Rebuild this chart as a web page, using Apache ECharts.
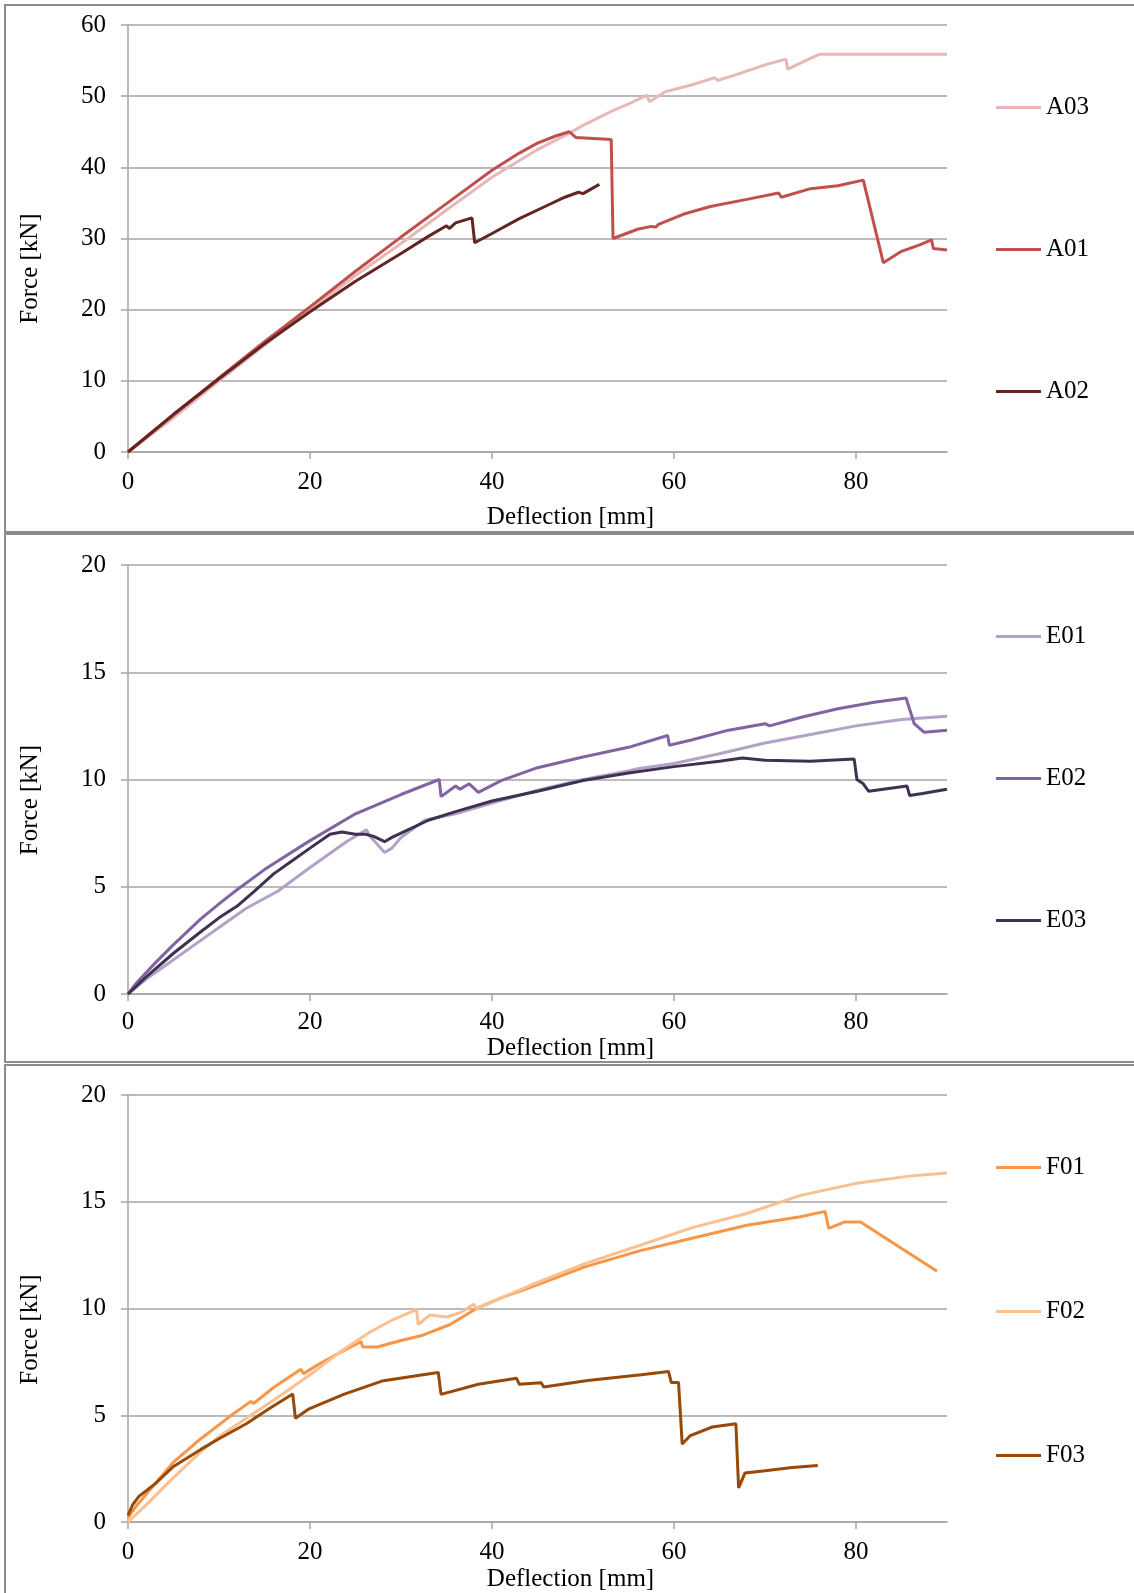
<!DOCTYPE html>
<html><head><meta charset="utf-8">
<script src="https://cdn.jsdelivr.net/npm/echarts@6/dist/echarts.min.js"></script>
<style>html,body{margin:0;padding:0;background:#fff}#c{width:1134px;height:1593px}</style>
</head><body><div id="c"></div>
<script>
// ---- data (Deflection [mm], Force [kN]) ----
const xTickValues = [0, 20, 40, 60, 80];
const panelNames = [['A03', 'A01', 'A02'], ['E01', 'E02', 'E03'], ['F01', 'F02', 'F03']];
const yMax = [60, 20, 20];
const yStep = [10, 5, 5];

const A03 = [[0,0],[5,4.8],[10,10],[15,15],[20,20],[25,24.8],[30,29.3],[35,34],[40,38.6],[45,42.5],[48.5,44.8],[50,45.9],[53,47.8],[55,48.9],[57,50.1],[57.3,49.2],[59,50.6],[62,51.6],[64.5,52.6],[64.8,52.2],[67,53.1],[70,54.4],[72.3,55.2],[72.5,53.8],[74,54.7],[76,55.9],[90,55.9]];
const A01 = [[0,0],[5,5.2],[10,10.4],[15,15.5],[20,20.4],[25,25.4],[30,30.2],[35,34.9],[40,39.6],[43,42],[45,43.4],[47,44.4],[48.5,45],[49.2,44.2],[53.1,43.9],[53.3,30.0],[56,31.3],[57.5,31.7],[58,31.6],[58.3,32],[61,33.4],[64,34.5],[68,35.5],[71.5,36.4],[71.8,35.8],[75,37],[78,37.4],[80.8,38.2],[83,26.6],[85,28.2],[87,29.1],[88.3,29.8],[88.5,28.6],[90,28.4]];
const A02 = [[0,0],[5,5.3],[10,10.3],[15,15.2],[20,19.7],[25,24.0],[30,27.9],[33,30.3],[35,31.8],[35.3,31.4],[36,32.2],[37.8,32.9],[38.1,29.4],[40,30.7],[43,32.8],[46,34.6],[48,35.8],[49.5,36.5],[50,36.3],[51.8,37.6]];

const E01 = [[0,0],[2,0.7],[5,1.6],[8,2.5],[10,3.1],[13,4.0],[16.5,4.8],[20,5.9],[24,7.1],[26.2,7.66],[26.5,7.4],[28.2,6.6],[29,6.8],[30,7.3],[32.6,8.1],[36,8.4],[40,8.9],[45,9.5],[50,10.0],[55,10.4],[56,10.5],[60,10.75],[65,11.2],[70,11.7],[75,12.1],[80,12.5],[85,12.8],[90,12.95]];
const E02 = [[0,0],[1,0.55],[3,1.45],[5,2.3],[8,3.5],[10,4.2],[11.8,4.8],[15,5.8],[20,7.15],[25,8.4],[30,9.3],[34.2,10.0],[34.4,9.2],[36,9.7],[36.5,9.55],[37.5,9.8],[38.5,9.4],[41,9.95],[45,10.55],[50,11.05],[55,11.5],[59.3,12.05],[59.5,11.6],[62,11.85],[66,12.3],[70,12.6],[70.5,12.5],[74,12.9],[78,13.3],[82,13.6],[85.5,13.8],[86.4,12.6],[87.5,12.2],[90,12.3]];
const E03 = [[0,0],[2,0.8],[5,1.9],[8,2.9],[10,3.55],[12,4.1],[13.9,4.8],[16,5.6],[18,6.2],[20,6.8],[22.2,7.45],[23.5,7.55],[25,7.45],[26.1,7.45],[27,7.35],[28.2,7.1],[29,7.3],[31,7.7],[33,8.1],[36,8.5],[40,9.0],[45,9.45],[50,9.95],[55,10.3],[60,10.6],[65,10.85],[67.5,11.0],[70,10.9],[75,10.85],[79.8,10.95],[80.1,10.0],[80.8,9.8],[81.4,9.45],[83,9.55],[85.6,9.7],[85.9,9.25],[87.3,9.35],[90,9.55]];

const F01 = [[0,0.2],[1,0.8],[3,1.8],[5,2.8],[8,3.9],[11.2,4.95],[13.5,5.65],[13.8,5.55],[16,6.3],[19,7.15],[19.3,6.95],[21,7.4],[24,8.1],[25.6,8.45],[25.8,8.2],[27.4,8.2],[30,8.5],[32.4,8.75],[35.4,9.25],[38.3,10.0],[41,10.5],[44.3,11.0],[50.2,11.95],[56.2,12.7],[62.1,13.3],[68,13.9],[73.9,14.3],[76.6,14.55],[77,13.75],[78.7,14.05],[80.5,14.05],[88.9,11.75]];
const F02 = [[0,0],[2,0.8],[4.8,2.0],[8,3.3],[10,4.0],[14.2,5.2],[17,6.0],[20,6.9],[23.1,7.9],[26.6,8.9],[29,9.45],[31.7,9.95],[31.9,9.25],[33.2,9.7],[35,9.6],[36.5,9.8],[38,10.2],[38.3,10.0],[41,10.5],[44.3,11.1],[50.2,12.1],[56.2,12.95],[62.1,13.8],[68,14.45],[73.9,15.3],[79.9,15.85],[85.8,16.2],[90,16.35]];
const F03 = [[0,0.3],[0.5,0.8],[1.2,1.2],[3,1.8],[5,2.6],[8,3.4],[10,3.9],[13,4.6],[15.5,5.3],[18.1,6.0],[18.4,4.86],[19.9,5.3],[23.7,5.98],[27.9,6.6],[31.5,6.84],[34.1,7.0],[34.4,5.98],[38.5,6.45],[42.7,6.73],[43.0,6.45],[45.4,6.52],[45.7,6.32],[50.5,6.63],[56.4,6.9],[59.4,7.05],[59.7,6.53],[60.5,6.53],[60.9,3.65],[61.8,4.05],[64.2,4.45],[66.8,4.6],[67.1,1.6],[67.8,2.3],[70,2.4],[73,2.55],[75.8,2.65]];

const seriesData = {A03, A01, A02, E01, E02, E03, F01, F02, F03};
const seriesColors = {A03:'#e6b9b8', A01:'#c0504d', A02:'#632523', E01:'#b3a2c7', E02:'#8064a2', E03:'#3f3151', F01:'#f79646', F02:'#fac090', F03:'#984807'};

// ---- layout ----
const FONT = 'Liberation Serif';
const FS = 25;
const gridTops = [25, 565, 1095];
const gridHeights = [427, 429, 429];
const xLabelMargin = [18, 16, 18];
const xNameGap = [53, 41, 45];
const yNamePad = [60, 41, 42];
const legendTops = [90, 619, 1150];
const legendGaps = [117, 117, 119];
const GRID = '#a5a5a5';

const grids = [], xAxes = [], yAxes = [], legends = [], series = [];
for (let i = 0; i < 3; i++) {
  grids.push({left: 128, top: gridTops[i], width: 819, height: gridHeights[i]});
  xAxes.push({
    type: 'value', gridIndex: i, min: 0, max: 90, interval: 20,
    name: 'Deflection [mm]', nameLocation: 'middle', nameGap: xNameGap[i],
    nameTextStyle: {fontFamily: FONT, fontSize: FS, color: '#000', padding: [0, 0, 0, 66]},
    axisLine: {show: true, lineStyle: {color: GRID, width: 1.5}},
    axisTick: {show: true, length: 7, lineStyle: {color: GRID, width: 1.5}, customValues: xTickValues},
    axisLabel: {fontFamily: FONT, fontSize: FS, color: '#000', margin: xLabelMargin[i], customValues: xTickValues},
    splitLine: {show: false}
  });
  yAxes.push({
    type: 'value', gridIndex: i, min: 0, max: yMax[i], interval: yStep[i],
    name: 'Force [kN]', nameLocation: 'middle', nameGap: 85,
    nameTextStyle: {fontFamily: FONT, fontSize: FS, color: '#000', padding: [0, yNamePad[i], 0, 0]},
    axisLine: {show: true, lineStyle: {color: GRID, width: 1.5}},
    axisTick: {show: true, length: 7, lineStyle: {color: GRID, width: 1.5}},
    axisLabel: {fontFamily: FONT, fontSize: FS, color: '#000', margin: 22},
    splitLine: {show: true, lineStyle: {color: GRID, width: 1.5}}
  });
  legends.push({
    data: panelNames[i], orient: 'vertical', left: 991, top: legendTops[i],
    itemWidth: 45, itemHeight: 3, icon: 'rect', itemGap: legendGaps[i],
    textStyle: {fontFamily: FONT, fontSize: FS, color: '#000'},
    selectedMode: false
  });
  panelNames[i].forEach(function (nm) {
    series.push({
      type: 'line', name: nm, data: seriesData[nm], xAxisIndex: i, yAxisIndex: i,
      showSymbol: false, symbol: 'none', smooth: false,
      lineStyle: {color: seriesColors[nm], width: 3},
      itemStyle: {color: seriesColors[nm]},
      emphasis: {disabled: true}
    });
  });
}

const chart = echarts.init(document.getElementById('c'), null, {renderer: 'canvas'});
chart.setOption({
  backgroundColor: '#fff',
  animation: false,
  grid: grids, xAxis: xAxes, yAxis: yAxes, legend: legends, series: series,
  graphic: [
    {type: 'rect', silent: true, z: -10, shape: {x: 5, y: 5, width: 1200, height: 527}, style: {fill: 'none', stroke: '#8c8c8c', lineWidth: 2}},
    {type: 'rect', silent: true, z: -10, shape: {x: 5, y: 534, width: 1200, height: 528}, style: {fill: 'none', stroke: '#8c8c8c', lineWidth: 2}},
    {type: 'rect', silent: true, z: -10, shape: {x: 5, y: 1065, width: 1200, height: 600}, style: {fill: 'none', stroke: '#8c8c8c', lineWidth: 2}}
  ]
});
</script></body></html>
